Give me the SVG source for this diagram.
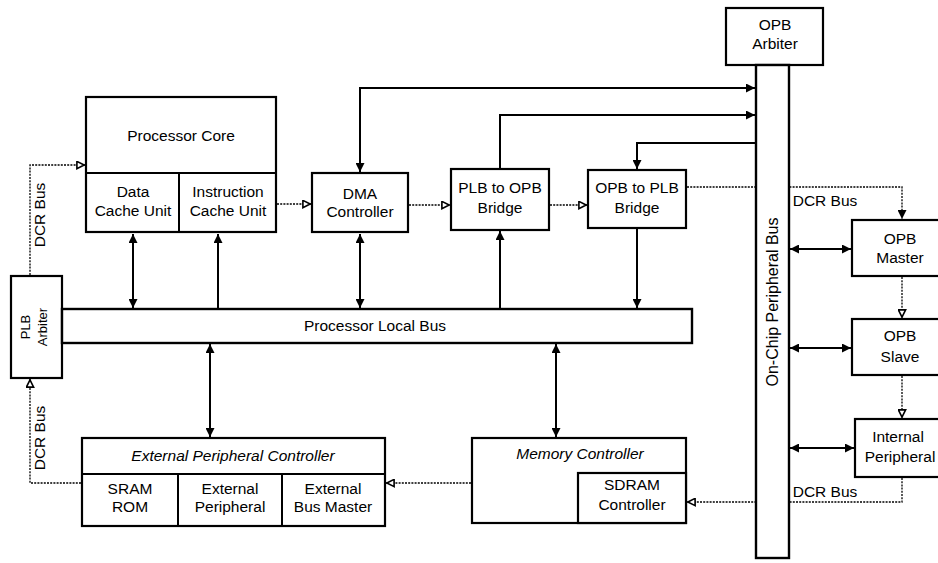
<svg xmlns="http://www.w3.org/2000/svg" width="938" height="563" viewBox="0 0 938 563">
<style>
.box{fill:#fff;stroke:#000;stroke-width:2.2}
.bus{fill:#fff;stroke:#000;stroke-width:2.4}
.t{font-family:"Liberation Sans",Arial,sans-serif;font-size:15.5px;fill:#000;text-anchor:middle}
.it{font-style:italic}
.s{fill:none;stroke:#000;stroke-width:2}
.d{fill:none;stroke:#000;stroke-width:1.3;stroke-dasharray:2 1.2}
</style>
<defs>
<marker id="ah" viewBox="0 0 10 10" refX="10" refY="5" markerWidth="9" markerHeight="9" markerUnits="userSpaceOnUse" orient="auto-start-reverse">
<path d="M0,0 L10,5 L0,10 z" fill="#000"/>
</marker>
<marker id="oh" viewBox="0 0 10 10" refX="10" refY="5" markerWidth="9" markerHeight="9" markerUnits="userSpaceOnUse" orient="auto-start-reverse">
<path d="M1,1 L9,5 L1,9 z" fill="#fff" stroke="#000" stroke-width="1.8"/>
</marker>
</defs>
<rect width="938" height="563" fill="#fff"/>
<g id="connectors">
<path class="s" d="M133,234 V308" marker-start="url(#ah)" marker-end="url(#ah)"/>
<path class="s" d="M218,309 V234" marker-end="url(#ah)"/>
<path class="s" d="M360,234 V308" marker-start="url(#ah)" marker-end="url(#ah)"/>
<path class="s" d="M500,309 V231" marker-end="url(#ah)"/>
<path class="s" d="M637,229 V308" marker-end="url(#ah)"/>
<path class="s" d="M210,344 V437" marker-start="url(#ah)" marker-end="url(#ah)"/>
<path class="s" d="M556,344 V437" marker-start="url(#ah)" marker-end="url(#ah)"/>
<path class="s" d="M360,172 V88 H755" marker-start="url(#ah)" marker-end="url(#ah)"/>
<path class="s" d="M500,168 V115 H755" marker-end="url(#ah)"/>
<path class="s" d="M756,143 H637 V169" marker-end="url(#ah)"/>
<path class="s" d="M790,249 H851" marker-start="url(#ah)" marker-end="url(#ah)"/>
<path class="s" d="M790,348 H851" marker-start="url(#ah)" marker-end="url(#ah)"/>
<path class="s" d="M790,448 H854" marker-start="url(#ah)" marker-end="url(#ah)"/>
<path class="d" d="M277,204 H311" marker-end="url(#oh)"/>
<path class="d" d="M409,205 H450" marker-end="url(#oh)"/>
<path class="d" d="M550,205 H587" marker-end="url(#oh)"/>
<path class="d" d="M687,187 H902 V219" marker-end="url(#ah)"/>
<path class="d" d="M902,277 V318" marker-end="url(#oh)"/>
<path class="d" d="M902,376 V418" marker-end="url(#oh)"/>
<path class="d" d="M902,478 V502 H687" marker-end="url(#oh)"/>
<path class="d" d="M471,483 H386" marker-end="url(#oh)"/>
<path class="d" d="M30,275 V165 H85" marker-end="url(#oh)"/>
<path class="d" d="M81,483 H30 V379" marker-end="url(#oh)"/>
<text class="t" transform="translate(45,215) rotate(-90)">DCR Bus</text>
<text class="t" transform="translate(45,438) rotate(-90)">DCR Bus</text>
<text class="t" x="825" y="206">DCR Bus</text>
<text class="t" x="825" y="497">DCR Bus</text>
</g>
<g id="processor-core">
<rect class="box" x="86" y="97" width="190" height="135"/>
<line class="s" x1="86" y1="173" x2="276" y2="173"/>
<line class="s" x1="179" y1="173" x2="179" y2="232"/>
<text class="t" x="181" y="141">Processor Core</text>
<text class="t" x="133" y="197">Data</text>
<text class="t" x="133" y="216">Cache Unit</text>
<text class="t" x="228" y="197">Instruction</text>
<text class="t" x="228" y="216">Cache Unit</text>
</g>
<g id="dma-controller">
<rect class="box" x="312" y="173" width="96" height="59"/>
<text class="t" x="360" y="199">DMA</text>
<text class="t" x="360" y="217">Controller</text>
</g>
<g id="plb-to-opb">
<rect class="box" x="451" y="169" width="98" height="61"/>
<text class="t" x="500" y="193">PLB to OPB</text>
<text class="t" x="500" y="213">Bridge</text>
</g>
<g id="opb-to-plb">
<rect class="box" x="588" y="170" width="98" height="58"/>
<text class="t" x="637" y="193">OPB to PLB</text>
<text class="t" x="637" y="213">Bridge</text>
</g>
<g id="plb-arbiter">
<rect class="box" x="11" y="276" width="51" height="102"/>
<text class="t" style="font-size:13px" transform="translate(30,327) rotate(-90)">PLB</text>
<text class="t" style="font-size:13px" transform="translate(47,327) rotate(-90)">Arbiter</text>
</g>
<g id="processor-local-bus">
<rect class="bus" x="62" y="309" width="630" height="34"/>
<text class="t" x="375" y="331">Processor Local Bus</text>
</g>
<g id="external-peripheral-controller">
<rect class="box" x="82" y="438" width="303" height="88"/>
<line class="s" x1="82" y1="474" x2="385" y2="474"/>
<line class="s" x1="178" y1="474" x2="178" y2="526"/>
<line class="s" x1="282" y1="474" x2="282" y2="526"/>
<text class="t it" x="233" y="461">External Peripheral Controller</text>
<text class="t" x="130" y="494">SRAM</text>
<text class="t" x="130" y="512">ROM</text>
<text class="t" x="230" y="494">External</text>
<text class="t" x="230" y="512">Peripheral</text>
<text class="t" x="333" y="494">External</text>
<text class="t" x="333" y="512">Bus Master</text>
</g>
<g id="memory-controller">
<rect class="box" x="472" y="438" width="214" height="85"/>
<rect class="box" x="578" y="473" width="108" height="50"/>
<text class="t it" x="580" y="459">Memory Controller</text>
<text class="t" x="632" y="490">SDRAM</text>
<text class="t" x="632" y="510">Controller</text>
</g>
<g id="opb-arbiter">
<rect class="box" x="726" y="8" width="97" height="57"/>
<text class="t" x="775" y="30">OPB</text>
<text class="t" x="775" y="49">Arbiter</text>
</g>
<g id="on-chip-peripheral-bus">
<rect class="bus" x="756" y="65" width="33" height="493"/>
<text class="t" style="font-size:16px" transform="translate(778,302) rotate(-90)">On-Chip Peripheral Bus</text>
</g>
<g id="opb-master">
<rect class="box" x="852" y="220" width="96" height="56"/>
<text class="t" x="900" y="244">OPB</text>
<text class="t" x="900" y="263">Master</text>
</g>
<g id="opb-slave">
<rect class="box" x="852" y="319" width="96" height="56"/>
<text class="t" x="900" y="341">OPB</text>
<text class="t" x="900" y="362">Slave</text>
</g>
<g id="internal-peripheral">
<rect class="box" x="855" y="419" width="96" height="58"/>
<text class="t" x="898" y="442">Internal</text>
<text class="t" x="900" y="462">Peripheral</text>
</g>
</svg>
